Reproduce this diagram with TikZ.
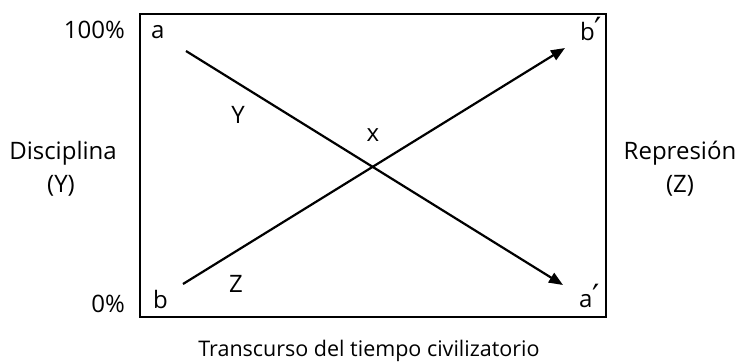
\documentclass[tikz,border=0pt]{standalone}
\usepackage{fontspec}
\setmainfont{Open Sans}
\newfontfamily\primefont{DejaVu Sans}
\usetikzlibrary{arrows.meta}

\begin{document}
\begin{tikzpicture}
[x=1pt,y=-1pt,
  labeldecorate/.style={inner sep=0pt,font=\fontsize{24}{28}\selectfont},
  framedecorate/.style={line width=2.2pt},
  arrowdecorate/.style={-{Triangle[length=14pt,width=11pt]},line width=2.2pt}]
\useasboundingbox (0,0) rectangle (737,362);
%% frame
\draw[framedecorate] (140,14) rectangle (606,317);
%% labels
\foreach \nodename/\x/\y/\anchorname/\txt in {
  top/125/38/base east/100\%, bottom/125/312/base east/0\%,
  a/151/38/base west/a, b/153/308/base west/b,
  bprime/580/40/base west/b{\primefont\fontsize{32}{32}\selectfont ′},
  aprime/579/307/base west/a{\primefont\fontsize{32}{32}\selectfont ′},
  Y/238/123/base/Y, Z/236/292/base/Z, x/373/141/base/x,
  disc/63/159/base/Disciplina, discY/61/192/base/(Y),
  repr/680/159/base/Represión, reprZ/680/192/base/(Z)}
{
  \node (\nodename) at (\x,\y) [labeldecorate,anchor=\anchorname] {\txt};
}
\node (time) at (369,356) [labeldecorate,anchor=base,font=\fontsize{21.5}{26}\selectfont]
  {Transcurso del tiempo civilizatorio};
%% lines
\foreach \startname/\sx/\sy/\endname/\ex/\ey in {
  astart/186/51/aend/563/285, bstart/183/284/bend/565/48}
{
  \coordinate (\startname) at (\sx,\sy);
  \coordinate (\endname) at (\ex,\ey);
  \draw[arrowdecorate] (\startname) -- (\endname);
}
\end{tikzpicture}
\end{document}
